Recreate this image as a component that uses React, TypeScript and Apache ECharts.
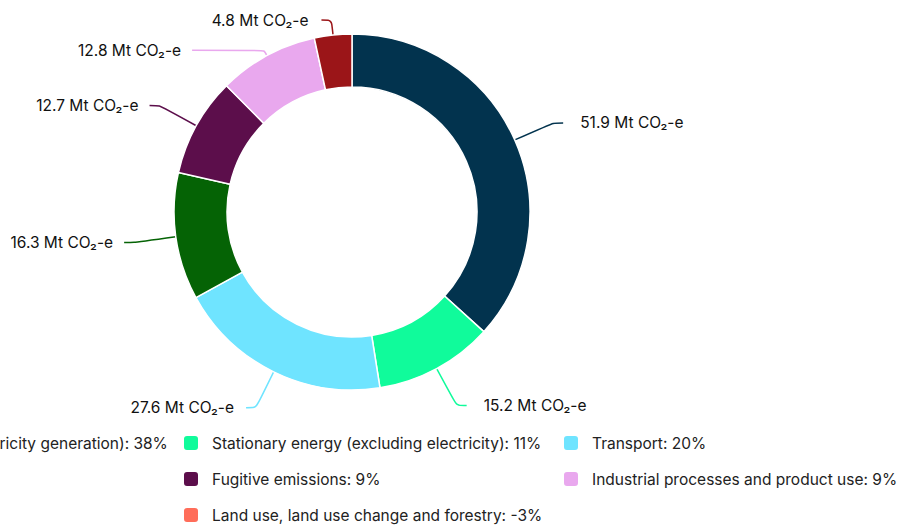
import React, { useEffect, useRef } from "react";
import * as echarts from "echarts";

const categories = [
  "Stationary energy (electricity generation)",
  "Stationary energy (excluding electricity)",
  "Transport",
  "Agriculture",
  "Fugitive emissions",
  "Industrial processes and product use",
  "Waste",
  "Land use, land use change and forestry",
];
const emissionsMt = [51.9, 15.2, 27.6, 16.3, 12.7, 12.8, 4.8, -4.7];
const colors = ["#02334e", "#10fb9b", "#6fe4ff", "#056305", "#5c0e4b", "#e9a8ee", "#9b1518", "#ff6d5a"];
const unit = "Mt CO\u2082-e";

// per-slice label line styling (lengths / gaps)
const lineLength = [42, 42, 40, 42, 42, 6, 15, 42];
const lineLength2 = [10, 10, 10, 10, 10, 72, 10, 10];
const labelGap = [17, 17, 12, 11, 11, 11, 13, 11];

// legend columns (left edge of icon)
const legendColumnsLeft = [-206, 182, 562];

export default function App() {
  const ref = useRef<HTMLDivElement>(null);
  useEffect(() => {
    if (!ref.current) return;
    const chart = echarts.init(ref.current, undefined, { renderer: "svg" });
    const net = emissionsMt.reduce((a, b) => a + b, 0);
    const pct: Record<string, number> = {};
    categories.forEach((c, i) => (pct[c] = Math.round((emissionsMt[i] / net) * 100)));
    const data = categories.map((name, i) => {
      const v = emissionsMt[i];
      const neg = v < 0;
      return {
        name,
        value: neg ? "-" : v,
        itemStyle: { color: colors[i] },
        label: neg
          ? { show: false }
          : { distanceToLabelLine: labelGap[i] },
        labelLine: neg
          ? { show: false }
          : { length: lineLength[i], length2: lineLength2[i], lineStyle: { color: colors[i] } },
      };
    });
    const legends = legendColumnsLeft.map((left, col) => ({
      orient: "vertical",
      left,
      top: 434,
      padding: 0,
      itemGap: 18,
      itemWidth: 16,
      itemHeight: 16,
      icon: "roundRect",
      data: categories.filter((_, i) => i % 3 === col),
      formatter: (name: string) => `${name}: ${pct[name]}%`,
      textStyle: {
        fontFamily: "Inter",
        fontSize: 15.5,
        color: "#222222",
        lineHeight: 16,
        padding: [0, 0, 0, 8],
      },
    }));
    chart.setOption({
      animation: false,
      backgroundColor: "#ffffff",
      textStyle: { fontFamily: "Inter" },
      legend: legends,
      series: [
        {
          type: "pie",
          center: [352, 212],
          radius: [125, 178],
          startAngle: 90,
          clockwise: true,
          avoidLabelOverlap: false,
          itemStyle: { borderColor: "#ffffff", borderWidth: 1.5 },
          label: {
            show: true,
            position: "outside",
            formatter: (p: any) => `${p.value} ${unit}`,
            fontFamily: "Inter",
            fontSize: 15.5,
            color: "#111111",
          },
          labelLine: { show: true, smooth: 0.25, lineStyle: { width: 1.5 } },
          emphasis: { disabled: true },
          data,
        },
      ],
    });
    return () => chart.dispose();
  }, []);
  return (
    <div
      ref={ref}
      style={{ position: "fixed", left: 0, top: 0, width: 900, height: 525 }}
    />
  );
}
